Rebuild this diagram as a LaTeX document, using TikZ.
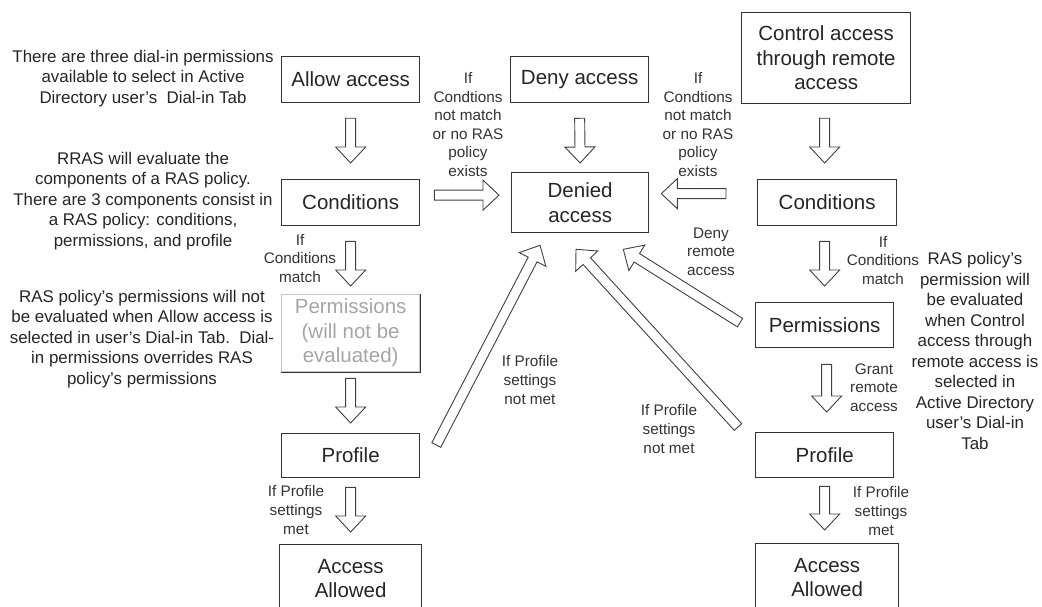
\documentclass[tikz,border=0pt]{standalone}
\usepackage{fontspec}
\setmainfont{Liberation Sans}
\usetikzlibrary{calc}

% hollow block arrow from point #1 to point #2
\newcommand{\hollowarrow}[2]{%
  \coordinate (ha-s) at #1;
  \coordinate (ha-t) at #2;
  \coordinate (ha-h) at ($(ha-t)!16pt!(ha-s)$);
  \draw[blockline]
    ($(ha-s)!5pt!90:(ha-t)$) -- ($(ha-h)!5pt!90:(ha-t)$) --
    ($(ha-h)!15pt!90:(ha-t)$) -- (ha-t) --
    ($(ha-h)!15pt!-90:(ha-t)$) -- ($(ha-h)!5pt!-90:(ha-t)$) --
    ($(ha-s)!5pt!-90:(ha-t)$) -- cycle;
}

\tikzset{
  box/.style={draw=black!80, line width=1.3pt, fill=white, inner sep=0pt,
    align=center, text=black!85, font=\fontsize{20.5}{24.5}\selectfont},
  greybox/.style={box, draw=gray!45, text=gray!70},
  lbl/.style={align=center, text=black!80, inner sep=0pt,
    font=\fontsize{15.3}{18.6}\selectfont},
  note/.style={align=center, text=black!85, inner sep=0pt,
    font=\fontsize{16.9}{20.5}\selectfont},
  blockline/.style={draw=black!75, line width=0.9pt, fill=white, line join=miter},
}

\begin{document}
\begin{tikzpicture}[x=1pt, y=-1pt]
\useasboundingbox (0,0) rectangle (1042,607);
\fill[white] (0,0) rectangle (1042,607);

% ---- boxes ----
\node[box, anchor=north west, minimum width=138pt, minimum height=46pt] (allow) at (281,56) {Allow access};
\node[box, anchor=north west, minimum width=138pt, minimum height=46pt] (cond1) at (281,179) {Conditions};
\node[greybox, anchor=north west, minimum width=138pt, minimum height=77pt] (perm1) at (281,294) {Permissions\\(will not be\\evaluated)};
\draw[black!80, line width=1.3pt] (perm1.north east) -- (perm1.south east) -- (perm1.south west);
\node[box, anchor=north west, minimum width=138pt, minimum height=44pt] (prof1) at (281,433) {Profile};
\node[box, anchor=north west, minimum width=142pt, minimum height=68pt] (acc1) at (279,544) {Access\\Allowed};

\node[box, anchor=north west, minimum width=138pt, minimum height=46pt] (deny) at (510,56) {Deny access};
\node[box, anchor=north west, minimum width=137pt, minimum height=60pt] (denied) at (511,172) {Denied\\access};

\node[box, anchor=north west, minimum width=169pt, minimum height=91pt] (ctrl) at (741,12) {Control access\\through remote\\access};
\node[box, anchor=north west, minimum width=139pt, minimum height=46pt] (cond2) at (757,179) {Conditions};
\node[box, anchor=north west, minimum width=138pt, minimum height=45pt] (perm2) at (755,302) {Permissions};
\node[box, anchor=north west, minimum width=138pt, minimum height=45pt] (prof2) at (755,432) {Profile};
\node[box, anchor=north west, minimum width=143pt, minimum height=68pt] (acc2) at (755,543) {Access\\Allowed};

% ---- vertical flow arrows ----
\hollowarrow{($(allow.south)+(0,15)$)}{($(cond1.north)+(0,-16)$)}
\hollowarrow{($(cond1.south)+(0,15)$)}{($(perm1.north)+(0,-8)$)}
\hollowarrow{($(perm1.south)+(0,6)$)}{($(prof1.north)+(0,-10)$)}
\hollowarrow{($(prof1.south)+(0,9)$)}{($(acc1.north)+(0,-12)$)}

\hollowarrow{($(deny.south)+(0,15)$)}{($(denied.north)+(0,-9)$)}

\hollowarrow{($(ctrl.south)+(-1.5,14)$)}{($(cond2.north)+(-2.5,-16)$)}
\hollowarrow{($(cond2.south)+(-2.5,15)$)}{($(perm2.north)+(0,-16)$)}
\hollowarrow{($(perm2.south)+(2,16)$)}{($(prof2.north)+(2,-20)$)}
\hollowarrow{($(prof2.south)+(0,8)$)}{($(acc2.north)+(-2.5,-13)$)}

% ---- arrows into the denied box ----
\hollowarrow{($(cond1.east)+(14,-7.5)$)}{($(denied.west)+(-12,-7.5)$)}
\hollowarrow{($(cond2.west)+(-31,-9)$)}{($(denied.east)+(12,-9)$)}
\hollowarrow{($(prof1.north east)+(16,12)$)}{($(denied.south west)+(29,12)$)}
\hollowarrow{($(prof2.north west)+(-17,-5)$)}{($(denied.south west)+(65,16)$)}
\hollowarrow{($(perm2.west)+(-15,-2.5)$)}{($(denied.south east)+(-26,16)$)}

% ---- arrow labels ----
\node[lbl] (l1) at (468,124.5) {If\\Condtions\\not match\\or no RAS\\policy\\exists};
\node[lbl] (l2) at (698,124.5) {If\\Condtions\\not match\\or no RAS\\policy\\exists};
\node[lbl] (l3) at (300,258.5) {If\\Conditions\\match};
\node[lbl] (l4) at (883,260.5) {If\\Conditions\\match};
\node[lbl] (l5) at (711,251.5) {Deny\\remote\\access};
\node[lbl] (l6) at (530,380) {If Profile\\settings\\not met};
\node[lbl] (l7) at (669,429) {If Profile\\settings\\not met};
\node[lbl] (l8) at (874,387.5) {Grant\\remote\\access};
\node[lbl] (l9) at (296,510) {If Profile\\settings\\met};
\node[lbl] (l10) at (881,511) {If Profile\\settings\\met};

% ---- explanatory notes ----
\node[note] (n1) at (143,78.5) {There are three dial-in permissions\\available to select in Active\\Directory user’s\ \ Dial-in Tab};
\node[note] (n2) at (143,201) {RRAS will evaluate the\\components of a RAS policy.\\There are 3 components consist in\\a RAS policy: conditions,\\permissions, and profile};
\node[note] (n3) at (142,339) {RAS policy’s permissions will not\\be evaluated when Allow access is\\selected in user’s Dial-in Tab.\ \ Dial-\\in permissions overrides RAS\\policy’s permissions};
\node[note] (n4) at (975,351) {RAS policy’s\\permission will\\be evaluated\\when Control\\access through\\remote access is\\selected in\\Active Directory\\user’s Dial-in\\Tab};
\end{tikzpicture}
\end{document}
